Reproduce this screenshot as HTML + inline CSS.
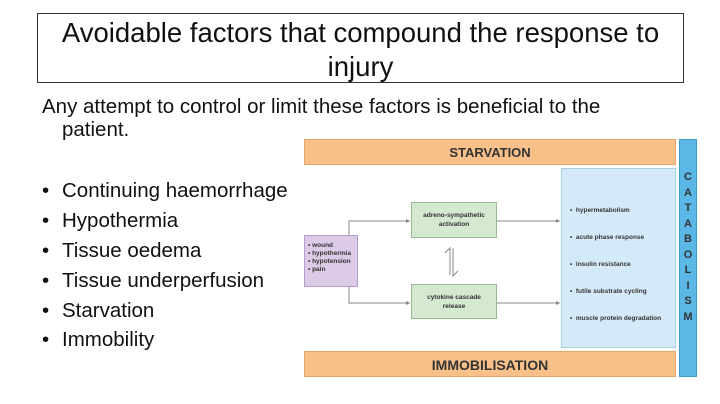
<!DOCTYPE html>
<html><head><meta charset="utf-8"><style>
body{margin:0;width:720px;height:404px;background:#fff;position:relative;overflow:hidden;font-family:"Liberation Sans",sans-serif;}
.a{position:absolute;box-sizing:border-box;}
.t{left:37px;top:13px;width:647px;height:70px;border:1.5px solid #333;text-align:center;font-size:27.5px;line-height:34px;color:#111;padding-top:2px;white-space:nowrap;}
.p{font-size:20.5px;color:#111;white-space:nowrap;}
.b{font-size:20.5px;color:#111;left:42px;white-space:nowrap;}
.b span{display:inline-block;width:20px;}
.or{background:#f9c08a;border:1px solid #e9a86b;font-weight:bold;font-size:13px;text-align:center;color:#333;}
.g{background:#d5e8d0;border:1px solid #9bb894;font-size:6.5px;font-weight:bold;text-align:center;color:#333;display:flex;align-items:center;justify-content:center;line-height:9px;}
</style></head><body>
<div class="a t">Avoidable factors that compound the response to<br>injury</div>
<div class="a p" style="left:42px;top:95px;">Any attempt to control or limit these factors is beneficial to the</div>
<div class="a p" style="left:62px;top:118px;">patient.</div>
<div class="a b" style="top:179px"><span>•</span>Continuing haemorrhage</div>
<div class="a b" style="top:209px"><span>•</span>Hypothermia</div>
<div class="a b" style="top:239px"><span>•</span>Tissue oedema</div>
<div class="a b" style="top:269px"><span>•</span>Tissue underperfusion</div>
<div class="a b" style="top:299px"><span>•</span>Starvation</div>
<div class="a b" style="top:328px"><span>•</span>Immobility</div>

<div class="a or" style="left:304px;top:139px;width:372px;height:26px;line-height:26px;">STARVATION</div>
<div class="a or" style="left:304px;top:351px;width:372px;height:26px;line-height:26px;font-size:14px;">IMMOBILISATION</div>
<div class="a" style="left:679px;top:139px;width:18px;height:238px;background:#5bb8e6;border:1px solid #3a9ccc;font-weight:bold;font-size:11px;color:#333;text-align:center;line-height:15.5px;padding-top:30px;">C<br>A<br>T<br>A<br>B<br>O<br>L<br>I<br>S<br>M</div>
<div class="a" style="left:561px;top:168px;width:115px;height:180px;background:#d4eaf8;border:1px solid #a9cde3;font-size:6.5px;font-weight:bold;color:#333;line-height:8px;padding:38px 0 0 8px;white-space:nowrap;">
<div style="height:27px">•&nbsp; hypermetabolism</div>
<div style="height:27px">•&nbsp; acute phase response</div>
<div style="height:27px">•&nbsp; insulin resistance</div>
<div style="height:27px">•&nbsp; futile substrate cycling</div>
<div>•&nbsp; muscle protein degradation</div></div>
<div class="a" style="left:304px;top:235px;width:54px;height:52px;background:#dccbe6;border:1px solid #b69ccb;font-size:6.5px;font-weight:bold;color:#333;line-height:8px;padding:6px 0 0 3px;">• wound<br>• hypothermia<br>• hypotension<br>• pain</div>
<div class="a g" style="left:411px;top:202px;width:86px;height:36px;">adreno-sympathetic<br>activation</div>
<div class="a g" style="left:411px;top:284px;width:86px;height:35px;">cytokine cascade<br>release</div>
<svg class="a" style="left:0;top:0" width="720" height="404">
<g stroke="#888" stroke-width="1" fill="none">
<polyline points="349,235 349,221 410,221"/>
<polyline points="349,287 349,303 410,303"/>
<line x1="497" y1="221" x2="560" y2="221"/>
<line x1="497" y1="303" x2="560" y2="303"/>
<polyline points="450,275 450,248 445,253"/>
<polyline points="453,248 453,276 458,271"/>
</g>
<g fill="#888"><path d="M410,221 l-4,-2 v4z"/><path d="M410,303 l-4,-2 v4z"/><path d="M560,221 l-4,-2 v4z"/><path d="M560,303 l-4,-2 v4z"/></g>
</svg>
</body></html>
